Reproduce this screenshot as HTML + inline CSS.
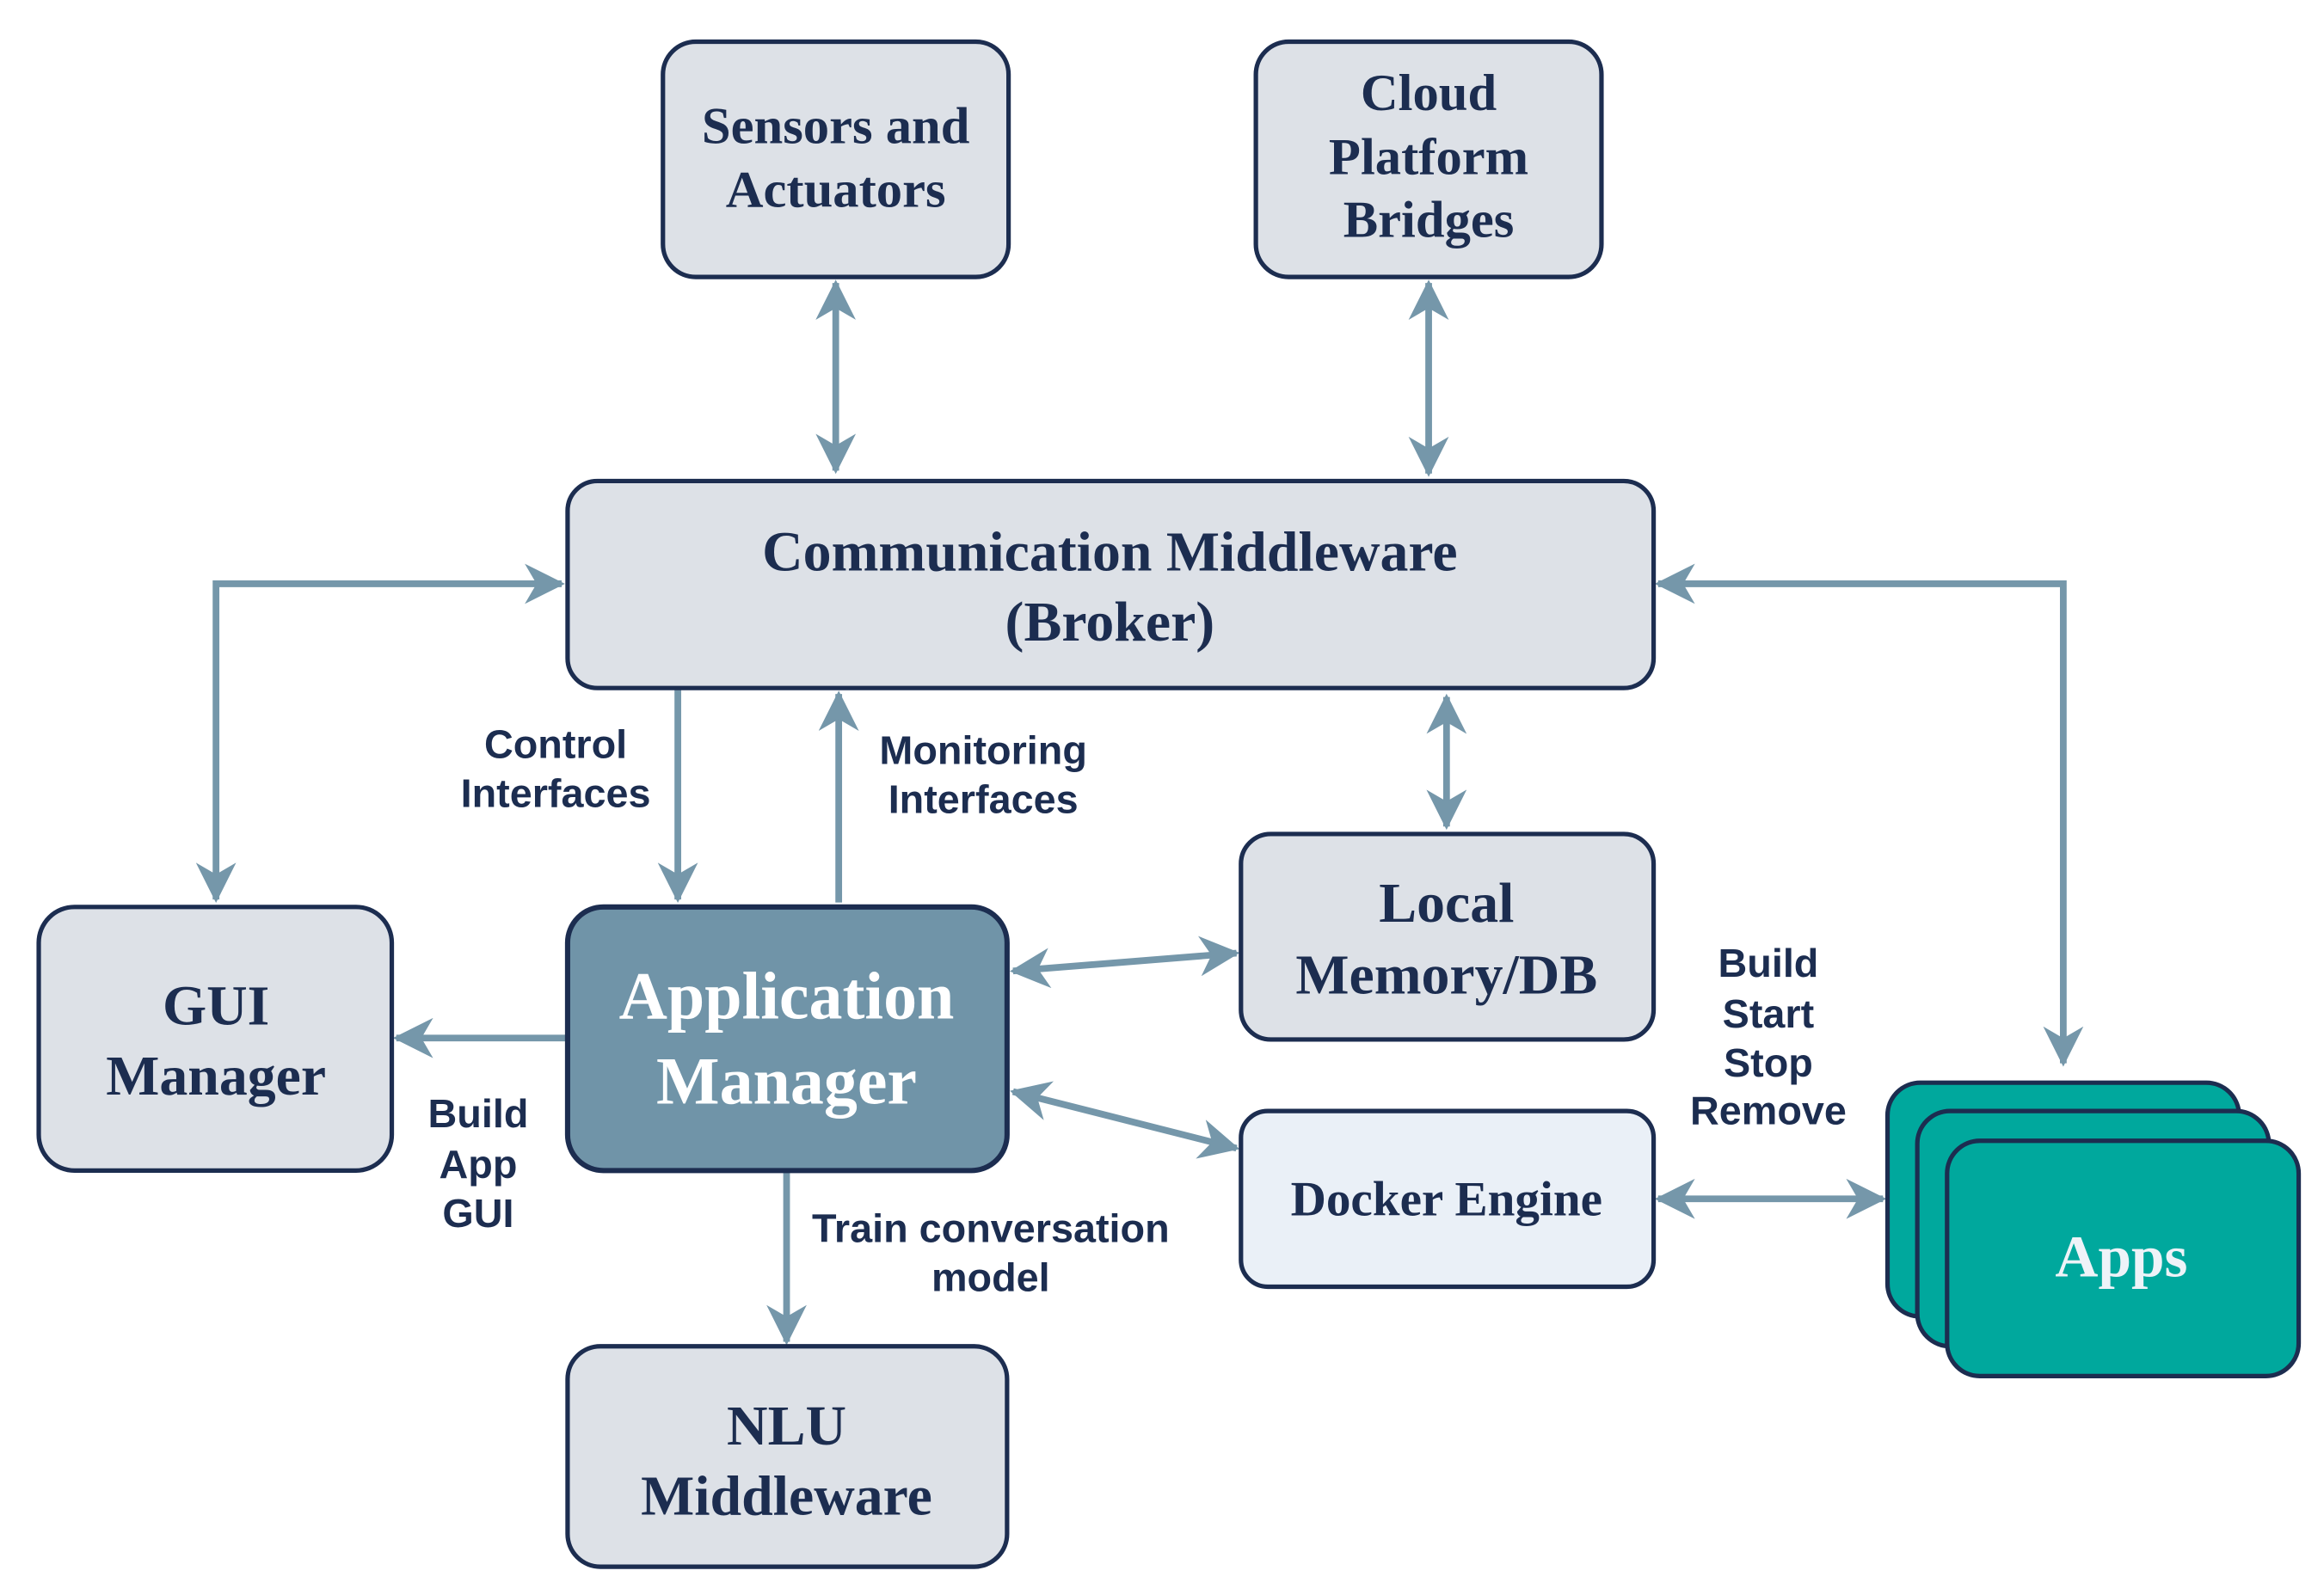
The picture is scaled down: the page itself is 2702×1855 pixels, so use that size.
<!DOCTYPE html>
<html><head><meta charset="utf-8"><style>
html,body{margin:0;padding:0;background:#fff;}
svg{display:block;}
.b{fill:#dde1e7;stroke:#1c2d50;stroke-width:3;}
.t{font-family:"Liberation Serif",serif;font-weight:bold;fill:#1c2d50;text-anchor:middle;}
.l{font-family:"Liberation Sans",sans-serif;font-weight:bold;fill:#1c2d50;text-anchor:middle;font-size:27px;}
.a{stroke:#7597aa;stroke-width:4.5;fill:none;}
</style></head><body>
<svg width="2702" height="1855" viewBox="0 0 1560 1071" preserveAspectRatio="none" xmlns="http://www.w3.org/2000/svg">
<defs>
<marker id="m" viewBox="0 0 12 12" refX="11" refY="6" markerWidth="6" markerHeight="6" orient="auto-start-reverse" markerUnits="strokeWidth">
<path d="M0,0 L12,6 L0,12 L3.5,6 z" fill="#7597aa"/>
</marker>
</defs>
<path class="a" d="M561,190 V316" marker-start="url(#m)" marker-end="url(#m)"/>
<path class="a" d="M959,190 V318" marker-start="url(#m)" marker-end="url(#m)"/>
<path class="a" d="M145,604 V392 H377" marker-start="url(#m)" marker-end="url(#m)"/>
<path class="a" d="M1113,392 H1385 V714" marker-start="url(#m)" marker-end="url(#m)"/>
<path class="a" d="M455,463 V604" marker-end="url(#m)"/>
<path class="a" d="M563,606 V466" marker-end="url(#m)"/>
<path class="a" d="M971,468 V555" marker-start="url(#m)" marker-end="url(#m)"/>
<path class="a" d="M680,652 L830,640" marker-start="url(#m)" marker-end="url(#m)"/>
<path class="a" d="M680,733 L830,771" marker-start="url(#m)" marker-end="url(#m)"/>
<path class="a" d="M380,697 H266" marker-end="url(#m)"/>
<path class="a" d="M528,787 V901" marker-end="url(#m)"/>
<path class="a" d="M1113,805 H1264" marker-start="url(#m)" marker-end="url(#m)"/>
<rect class="b" x="445" y="28" width="232" height="158" rx="22"/>
<text class="t" font-size="35" x="561" y="96">Sensors and</text>
<text class="t" font-size="35" x="561" y="139">Actuators</text>
<rect class="b" x="843" y="28" width="232" height="158" rx="22"/>
<text class="t" font-size="35" x="959" y="74">Cloud</text>
<text class="t" font-size="35" x="959" y="117">Platform</text>
<text class="t" font-size="35" x="959" y="159">Bridges</text>
<rect class="b" x="381" y="323" width="729" height="139" rx="20"/>
<text class="t" font-size="38" x="745" y="383">Communication Middleware</text>
<text class="t" font-size="38" x="745" y="430">(Broker)</text>
<rect class="b" x="26" y="609" width="237" height="177" rx="24"/>
<text class="t" font-size="38" x="145" y="688">GUI</text>
<text class="t" font-size="38" x="145" y="735">Manager</text>
<rect x="381" y="609" width="295" height="177" rx="24" fill="#7094a8" stroke="#1c2d50" stroke-width="3.5"/>
<text class="t" font-size="45" x="528" y="684" style="fill:#fff">Application</text>
<text class="t" font-size="45" x="528" y="741" style="fill:#fff">Manager</text>
<rect class="b" x="833" y="560" width="277" height="138" rx="20"/>
<text class="t" font-size="38" x="971" y="619">Local</text>
<text class="t" font-size="38" x="971" y="667">Memory/DB</text>
<rect class="b" x="833" y="746" width="277" height="118" rx="18" style="fill:#eaf0f7"/>
<text class="t" font-size="33" x="971" y="816">Docker Engine</text>
<rect class="b" x="381" y="904" width="295" height="148" rx="22"/>
<text class="t" font-size="38" x="528" y="970">NLU</text>
<text class="t" font-size="38" x="528" y="1017">Middleware</text>
<rect x="1267" y="727" width="236" height="157" rx="22" fill="#00a89d" stroke="#1c2d50" stroke-width="3"/>
<rect x="1287" y="746" width="236" height="158" rx="22" fill="#00a89d" stroke="#1c2d50" stroke-width="3"/>
<rect x="1307" y="766" width="236" height="158" rx="22" fill="#00a89d" stroke="#1c2d50" stroke-width="3"/>
<text class="t" font-size="40" x="1424" y="857" style="fill:#eef3f8">Apps</text>
<text class="l" x="373" y="509">Control</text>
<text class="l" x="373" y="542">Interfaces</text>
<text class="l" x="660" y="513">Monitoring</text>
<text class="l" x="660" y="546">Interfaces</text>
<text class="l" x="321" y="757">Build</text>
<text class="l" x="321" y="791">App</text>
<text class="l" x="321" y="824">GUI</text>
<text class="l" x="665" y="834">Train conversation</text>
<text class="l" x="665" y="867">model</text>
<text class="l" x="1187" y="656">Build</text>
<text class="l" x="1187" y="690">Start</text>
<text class="l" x="1187" y="723">Stop</text>
<text class="l" x="1187" y="755">Remove</text>
</svg>
</body></html>
